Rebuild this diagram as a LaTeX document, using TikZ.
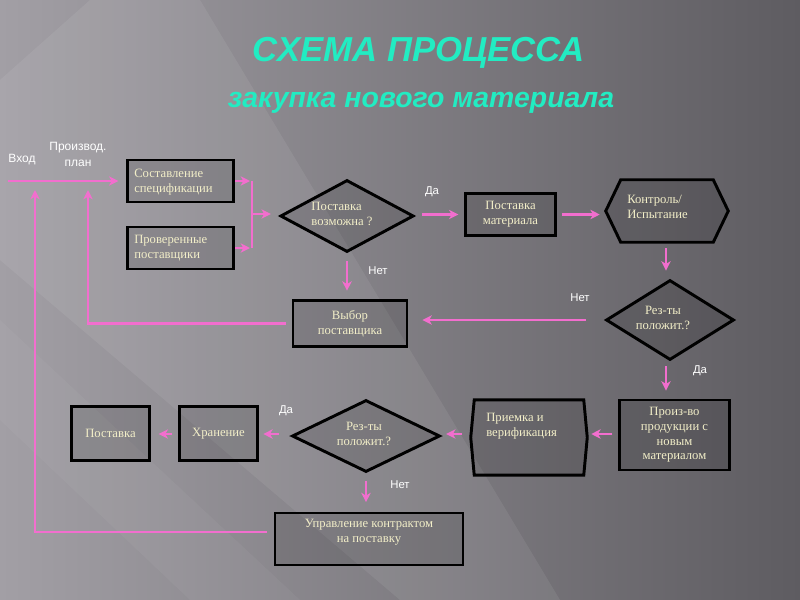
\documentclass[tikz,border=0pt]{standalone}
\usepackage{fontspec}
\setmainfont{Liberation Serif}
\setsansfont{Liberation Sans}
\usetikzlibrary{arrows.meta,shapes.geometric,calc}
\definecolor{pinkc}{HTML}{F26ECE}
\definecolor{creamc}{HTML}{F2EEC8}
\definecolor{titlec}{HTML}{22ECC2}
\definecolor{bgL}{HTML}{A29FA5}
\definecolor{bgR}{HTML}{5E5C61}
\tikzset{
  box/.style={draw=black, line width=2.2pt, fill=black, fill opacity=0.12, text opacity=1,
    text=creamc, font=\fontsize{9.5}{11}\selectfont, inner sep=0pt, align=center},
  dia/.style={box, diamond},
  ghost/.style={inner sep=0pt, draw=none},
  btxt/.style={text=creamc, font=\fontsize{9.5}{11}\selectfont, inner sep=0pt},
  conn/.style={draw=pinkc, line width=2pt, -{Stealth[length=7pt,width=7pt,inset=2pt]}},
  line/.style={draw=pinkc, line width=2pt},
  lbl/.style={text=white, font=\sffamily\fontsize{8.5}{10}\selectfont, inner sep=0pt},
}
\begin{document}
\begin{tikzpicture}[x=0.75pt,y=-0.75pt]
\useasboundingbox (0,0) rectangle (800,600);
% background
\fill[left color=bgL, right color=bgR] (0,0) rectangle (800,600);
\fill[white, opacity=0.07] (0,80) -- (90,0) -- (200,0) -- (560,600) -- (400,600) -- (0,260) -- cycle;
\fill[white, opacity=0.04] (0,320) -- (0,420) -- (190,600) -- (300,600) -- cycle;

% title
\node[text=titlec, font=\sffamily\bfseries\itshape\fontsize{26}{30}\selectfont] (t1) at (419,53) {СХЕМА ПРОЦЕССА};
\node[text=titlec, font=\sffamily\bfseries\itshape\fontsize{21.3}{25}\selectfont] (t2) at (421,103) {закупка нового материала};

% input labels
\node[lbl, font=\sffamily\fontsize{9}{10}\selectfont] (vhod) at (22,160) {Вход};
\node[lbl, font=\sffamily\fontsize{9}{12}\selectfont, align=center] (plan) at (78,154) {Производ.\\план};
\coordinate (in) at (8,181);

% row 1
\node[box, minimum width=80pt, minimum height=31.5pt] (b1) at (180.5,181) {};
\node[btxt, anchor=west, align=left] (b1t) at (134,182) {Составление\\спецификации};
\node[box, minimum width=80pt, minimum height=31.5pt] (b2) at (180.5,248) {};
\node[btxt, anchor=west, align=left] (b2t) at (134,248) {Проверенные\\поставщики};

\node[dia, minimum width=100pt, minimum height=54pt] (d1) at (347,216) {};
\node[btxt, align=left] (d1t) at (342,214) {Поставка\\возможна ?};

\node[box, minimum width=67pt, minimum height=32pt] (b3) at (510.5,214.5) {Поставка\\материала};

\node[ghost, minimum width=91.5pt, minimum height=46.5pt] (h1) at (667,211) {};
\draw[box] (h1.west) -- ($(h1.north west)+(15,0)$) -- ($(h1.north east)+(-15,0)$) -- (h1.east)
  -- ($(h1.south east)+(-15,0)$) -- ($(h1.south west)+(15,0)$) -- cycle;
\node[btxt, anchor=west, align=left] (h1t) at (627,207) {Контроль/\\Испытание};

% row 2
\node[dia, minimum width=96pt, minimum height=60pt] (d2) at (670,320) {};
\node[btxt, align=center] (d2t) at (663,318) {Рез-ты\\положит.?};

\node[box, minimum width=85.5pt, minimum height=35pt] (vyb) at (350,323.5) {Выбор\\поставщика};

% row 3
\node[box, minimum width=82pt, minimum height=52.5pt] (pr) at (674.5,435) {Произ-во\\продукции с\\новым\\материалом};

\node[ghost, minimum width=87pt, minimum height=56pt] (h2) at (529,437.5) {};
\draw[box] (h2.west) -- ($(h2.north west)+(3.5,0)$) -- ($(h2.north east)+(-3.5,0)$) -- (h2.east)
  -- ($(h2.south east)+(-3.5,0)$) -- ($(h2.south west)+(3.5,0)$) -- cycle;
\node[btxt, anchor=west, align=left] (h2t) at (486,426) {Приемка и\\верификация};

\node[dia, minimum width=111pt, minimum height=54pt] (d3) at (366,436) {};
\node[btxt, align=center] (d3t) at (364,434) {Рез-ты\\положит.?};

\node[box, minimum width=58pt, minimum height=41pt] (hr) at (218.5,433.5) {Хранение};
\node[box, minimum width=58pt, minimum height=41pt] (po) at (110.5,433.5) {Поставка};

\node[box, minimum width=141pt, minimum height=39pt] (up) at (369,539) {};
\node[btxt, align=center] (upt) at (369,532) {Управление контрактом\\на поставку};

% connector labels
\node[lbl] (l1) at (432,192) {Да};
\node[lbl] (l2) at (378,271) {Нет};
\node[lbl] (l3) at (580,298) {Нет};
\node[lbl] (l4) at (700,371) {Да};
\node[lbl] (l5) at (286,411) {Да};
\node[lbl] (l6) at (400,485) {Нет};

% connectors
\draw[conn, shorten >=5.5pt] (in) -- (b1.west);
\coordinate (j1) at (252,181);
\coordinate (j2) at (252,248);
\coordinate (jm) at (252,214);
\draw[conn, shorten >=1.5pt] (b1.east) -- (j1);
\draw[conn, shorten >=1.5pt] (b2.east) -- (j2);
\draw[line] (j1) -- (j2);
\draw[conn, shorten >=6pt] (jm) -- (d1.west |- jm);
\draw[conn, shorten <=5pt, shorten >=4.5pt] (d1.east |- b3) -- (b3.west);
\draw[conn, shorten <=4pt, shorten >=4.5pt] (b3.east) -- (h1.west |- b3);
\coordinate (c5) at (666,242);
\draw[conn, shorten <=4.5pt, shorten >=6pt] (c5) -- (c5 |- d2.north);
\draw[conn, shorten <=14pt, shorten >=10.5pt] (d2.west) -- (vyb.east |- d2.west);
\draw[conn, shorten <=6pt, shorten >=6pt] (d1.south) -- (d1.south |- vyb.north);
\coordinate (c8) at (88,190);
\draw[conn, shorten <=4.5pt] (vyb.west) -- (c8 |- vyb.west) -- (c8);
\coordinate (c9) at (666,360);
\draw[conn, shorten <=4.5pt, shorten >=6pt] (c9) -- (c9 |- pr.north);
\draw[conn, shorten <=4.5pt, shorten >=3pt] (pr.west |- 0,434) -- (h2.east |- 0,434);
\draw[conn, shorten <=6.5pt, shorten >=3.5pt] (h2.west |- 0,434) -- (d3.east |- 0,434);
\draw[conn, shorten <=9pt, shorten >=3.5pt] (d3.west |- 0,434) -- (hr.east |- 0,434);
\draw[conn, shorten <=5pt, shorten >=6pt] (hr.west |- 0,434) -- (po.east |- 0,434);
\draw[conn, shorten <=6pt, shorten >=7pt] (d3.south) -- (d3.south |- up.north);
\coordinate (c15) at (35,190);
\coordinate (c15b) at (275,532);
\draw[conn, shorten <=6pt] (c15b) -- (c15 |- c15b) -- (c15);
\end{tikzpicture}
\end{document}
